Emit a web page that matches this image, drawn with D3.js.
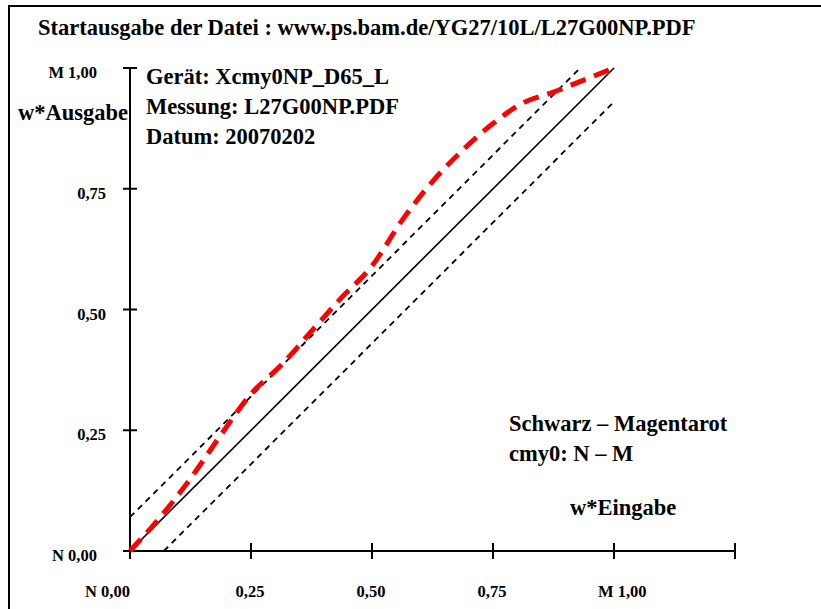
<!DOCTYPE html>
<html>
<head>
<meta charset="utf-8">
<script src="https://cdn.jsdelivr.net/npm/d3@7"></script>
<style>
  body { margin: 0; background: #fff; }
  svg { display: block; }
  text { font-family: "Liberation Serif", "Times New Roman", serif; font-weight: bold; fill: #000; }
</style>
</head>
<body>
<svg id="chart" width="821" height="609"></svg>
<script>
// measured curve: w*Eingabe -> w*Ausgabe
var inputValues  = [0, 0.0625, 0.125, 0.1875, 0.25, 0.3125, 0.375, 0.4375, 0.5, 0.5625, 0.625, 0.6875, 0.75, 0.8125, 0.875, 0.9375, 1.0];
var outputValues = [0, 0.07, 0.15, 0.24, 0.325, 0.385, 0.455, 0.525, 0.59, 0.685, 0.765, 0.83, 0.885, 0.928, 0.95, 0.975, 1.0];

// reference line and tolerance band
var identityLine = [[0, 0], [1, 1]];
var upperLimit = [[0, 0.07], [0.93, 1]];
var lowerLimit = [[0.07, 0], [1, 0.93]];

var xTickValues = [0, 0.25, 0.5, 0.75, 1, 1.25];
var xTickLabels = ["N 0,00", "0,25", "0,50", "0,75", "M 1,00", ""];
var yTickValues = [0, 0.25, 0.5, 0.75, 1];
var yTickLabels = ["N 0,00", "0,25", "0,50", "0,75", "M 1,00"];

var titleText = "Startausgabe der Datei : www.ps.bam.de/YG27/10L/L27G00NP.PDF";
var infoLines = ["Gerät: Xcmy0NP_D65_L", "Messung: L27G00NP.PDF", "Datum: 20070202"];
var legendLines = ["Schwarz \u2013 Magentarot", "cmy0: N \u2013 M"];

var svg = d3.select("#chart");

var x = d3.scaleLinear().domain([0, 1]).range([130, 614]);
var y = d3.scaleLinear().domain([0, 1]).range([551, 68]);

// outer frame (runs off the right and bottom edge)
svg.append("rect")
    .attr("x", 9).attr("y", 6)
    .attr("width", 900).attr("height", 700)
    .attr("fill", "none").attr("stroke", "#000").attr("stroke-width", 2);

svg.append("text").attr("x", 38).attr("y", 35)
    .style("font-size", "22.5px").text(titleText);

// axes
svg.append("line")
    .attr("x1", x(0) - 7).attr("x2", x(1.25))
    .attr("y1", y(0)).attr("y2", y(0))
    .attr("stroke", "#000").attr("stroke-width", 2);
svg.append("line")
    .attr("x1", x(0)).attr("x2", x(0))
    .attr("y1", y(1)).attr("y2", y(0) + 8)
    .attr("stroke", "#000").attr("stroke-width", 2);

svg.selectAll(".xtick").data(xTickValues).enter().append("line")
    .attr("class", "xtick")
    .attr("x1", function (d) { return x(d); }).attr("x2", function (d) { return x(d); })
    .attr("y1", y(0) - 8).attr("y2", y(0) + 8)
    .attr("stroke", "#000").attr("stroke-width", 2);

svg.selectAll(".ytick").data(yTickValues).enter().append("line")
    .attr("class", "ytick")
    .attr("x1", x(0) - 7).attr("x2", x(0) + 7)
    .attr("y1", function (d) { return y(d); }).attr("y2", function (d) { return y(d); })
    .attr("stroke", "#000").attr("stroke-width", 2);

svg.selectAll(".xlabel").data(xTickValues).enter().append("text")
    .attr("class", "xlabel")
    .attr("x", function (d, i) {
        if (i === 0) return x(d);
        if (i === 4) return x(d) - 16;
        return x(d) - 1;
    })
    .attr("y", y(0) + 46)
    .attr("text-anchor", function (d, i) { return i === 0 ? "end" : (i === 4 ? "start" : "middle"); })
    .style("font-size", "16.5px")
    .text(function (d, i) { return xTickLabels[i]; });

svg.selectAll(".ylabel").data(yTickValues).enter().append("text")
    .attr("class", "ylabel")
    .attr("x", function (d, i) { return (i === 0 || i === 4) ? 97 : 106; })
    .attr("y", function (d) { return y(d) + 10; })
    .attr("text-anchor", "end")
    .style("font-size", "16.5px")
    .text(function (d, i) { return yTickLabels[i]; });

svg.append("text").attr("x", 18).attr("y", 120)
    .style("font-size", "22.5px").text("w*Ausgabe");
svg.append("text").attr("x", 570).attr("y", 515)
    .style("font-size", "22.5px").text("w*Eingabe");

svg.selectAll(".info").data(infoLines).enter().append("text")
    .attr("class", "info")
    .attr("x", 146).attr("y", function (d, i) { return 84 + i * 30; })
    .style("font-size", "22.5px").text(function (d) { return d; });

svg.selectAll(".legend").data(legendLines).enter().append("text")
    .attr("class", "legend")
    .attr("x", 509).attr("y", function (d, i) { return 431 + i * 30; })
    .style("font-size", "22.5px").text(function (d) { return d; });

var line = d3.line().x(function (d) { return x(d[0]); }).y(function (d) { return y(d[1]); });

svg.append("path").datum(identityLine).attr("d", line)
    .attr("fill", "none").attr("stroke", "#000").attr("stroke-width", 1.6);

[upperLimit, lowerLimit].forEach(function (band) {
    svg.append("path").datum(band).attr("d", line)
        .attr("fill", "none").attr("stroke", "#000").attr("stroke-width", 1.8)
        .attr("stroke-dasharray", "6,5");
});

var curve = inputValues.map(function (v, i) { return [v, outputValues[i]]; });
svg.append("path").datum(curve).attr("d", line.curve(d3.curveMonotoneX))
    .attr("fill", "none").attr("stroke", "#ff0000").attr("stroke-width", 5)
    .attr("stroke-dasharray", "16,9");
</script>
</body>
</html>
